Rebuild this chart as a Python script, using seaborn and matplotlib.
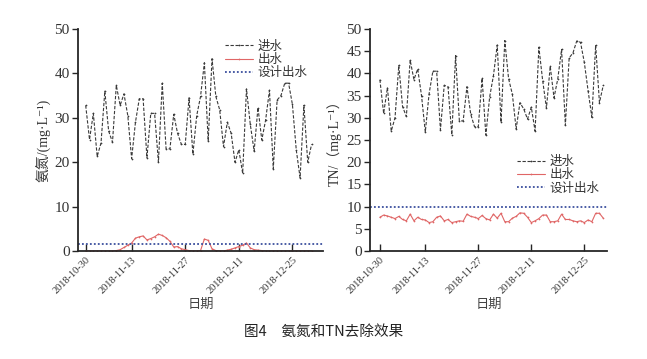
import pandas as pd
import numpy as np
import matplotlib
matplotlib.use("Agg")
import matplotlib.pyplot as plt
import seaborn as sns

# 样本序号 (按日采样, 共60个)
sample_idx = list(range(60))
tick_pos = [0, 12, 26, 40, 54]
tick_labels = ["2018-10-30", "2018-11-13", "2018-11-27", "2018-12-11", "2018-12-25"]

# 氨氮
nh3_in = [32.8, 25.1, 31.0, 21.3, 24.3, 36.0, 27.0, 24.5, 37.3, 32.8,
          35.4, 30.5, 20.8, 29.0, 34.3, 34.3, 21.0, 31.0, 31.0, 20.0,
          37.8, 23.0, 23.0, 30.8, 26.5, 24.0, 24.0, 34.5, 21.8, 30.5,
          34.8, 42.4, 24.8, 43.3, 34.8, 31.8, 23.5, 29.0, 26.5, 20.0,
          22.8, 17.5, 36.5, 28.5, 22.5, 32.3, 25.0, 29.5, 36.2, 18.5,
          34.0, 35.0, 37.8, 37.8, 33.0, 22.8, 16.5, 32.8, 20.0, 24.0]
nh3_out = [0.0, 0.0, 0.0, 0.0, 0.0, 0.0, 0.0, 0.0, 0.1, 0.3,
           0.8, 1.3, 1.8, 2.9, 3.2, 3.4, 2.5, 2.8, 3.2, 3.8,
           3.5, 3.0, 2.2, 0.9, 1.0, 0.5, 0.3, 0.1, 0.0, 0.0,
           0.1, 2.7, 2.4, 0.5, 0.1, 0.0, 0.0, 0.2, 0.4, 0.7,
           1.0, 1.3, 1.8, 0.7, 0.3, 0.2, 0.1, 0.0, 0.0, 0.0,
           0.0, 0.0, 0.0, 0.0, 0.0, 0.0, 0.0, 0.0, 0.0, 0.0]
nh3_design = 1.5

# TN
tn_in = [38.6, 31.0, 36.8, 27.0, 30.0, 41.8, 32.5, 30.3, 43.0, 38.6,
         41.0, 35.0, 26.8, 35.4, 40.5, 40.5, 27.3, 37.3, 37.0, 26.2,
         44.0, 29.3, 29.3, 37.0, 30.8, 28.0, 28.0, 38.9, 26.1, 34.7,
         39.5, 46.4, 29.0, 47.4, 38.8, 35.3, 27.5, 33.4, 32.0, 29.7,
         32.4, 27.0, 45.9, 38.4, 32.2, 41.6, 34.5, 38.8, 45.4, 28.3,
         43.5, 44.6, 47.3, 47.0, 42.5, 36.1, 30.1, 46.4, 33.4, 37.3]
tn_out = [7.6, 8.1, 7.9, 7.6, 7.3, 7.8, 7.1, 6.8, 8.3, 6.8,
          7.6, 7.1, 7.0, 6.4, 6.6, 7.6, 7.9, 6.8, 7.1, 6.4,
          6.6, 6.8, 6.7, 8.3, 7.8, 7.6, 7.3, 8.0, 7.3, 7.0,
          8.3, 7.4, 8.5, 6.6, 6.6, 7.4, 7.8, 8.6, 8.5, 7.6,
          6.4, 6.8, 7.3, 8.1, 8.1, 6.6, 6.6, 6.8, 8.3, 7.1,
          7.1, 6.8, 6.6, 6.8, 6.4, 7.0, 6.6, 8.5, 8.5, 7.4]
tn_design = 10

sns.set_style("ticks")
plt.rcParams["font.family"] = ["Liberation Serif", "Noto Sans CJK SC", "DejaVu Sans"]
plt.rcParams["axes.linewidth"] = 1.3

c_in = "#3a3a3a"
c_out = "#e06666"
c_des = "#3b4f9e"
txt = "#333333"

fig = plt.figure(figsize=(6.47, 3.59), dpi=100)
ax1 = fig.add_axes([0.1206, 0.3008, 0.3787, 0.6184])
ax2 = fig.add_axes([0.5719, 0.3008, 0.3663, 0.6184])


def draw(ax, y_in, y_out, design, yticks, xlim, ylabel, leg_loc):
    df = pd.DataFrame({"idx": sample_idx, "in": y_in, "out": y_out})
    sns.lineplot(data=df, x="idx", y="in", ax=ax, color=c_in, lw=0.8,
                 linestyle=(0, (3, 1.5)), marker=".", markersize=2.5,
                 markeredgewidth=0, label="进水")
    sns.lineplot(data=df, x="idx", y="out", ax=ax, color=c_out, lw=0.8,
                 marker=".", markersize=2.5, markeredgewidth=0, label="出水")
    ax.axhline(design, color=c_des, lw=1.3, linestyle=(0, (1, 1.2)),
               label="设计出水")
    ax.set_xlim(*xlim)
    ax.set_ylim(0, 50)
    ax.set_yticks(yticks)
    ax.set_xticks(tick_pos)
    ax.set_xticklabels(tick_labels, rotation=45, ha="right",
                       rotation_mode="anchor", fontsize=7.5, color=txt)
    ax.tick_params(axis="x", direction="in", length=5, width=1, pad=3)
    ax.tick_params(axis="y", direction="out", length=4, width=1,
                   labelsize=11, labelcolor=txt, pad=2)
    ax.set_xlabel("日期", fontsize=9.5, color="#444444", labelpad=2)
    ax.set_ylabel(ylabel, fontsize=10, color=txt, labelpad=3)
    sns.despine(ax=ax)
    leg = ax.legend(loc="upper left", bbox_to_anchor=leg_loc, frameon=False,
                    fontsize=9, handlelength=2.2, handletextpad=0.4,
                    labelspacing=0.1, borderaxespad=0)
    for t in leg.get_texts():
        t.set_color(txt)


draw(ax1, nh3_in, nh3_out, nh3_design, [0, 10, 20, 30, 40, 50], (-2, 62),
     "氨氮/(mg·L⁻¹)", (0.58, 0.97))
draw(ax2, tn_in, tn_out, tn_design, list(range(0, 51, 5)), (-2.6, 60),
     "TN/（mg·L⁻¹）", (0.6, 0.45))

fig.text(0.5, 0.075, "图4　氨氮和TN去除效果", ha="center", va="center",
         fontsize=10.5, family=["Noto Sans CJK SC", "DejaVu Sans"], color="#222222")

fig.savefig("out.png", dpi=100)
